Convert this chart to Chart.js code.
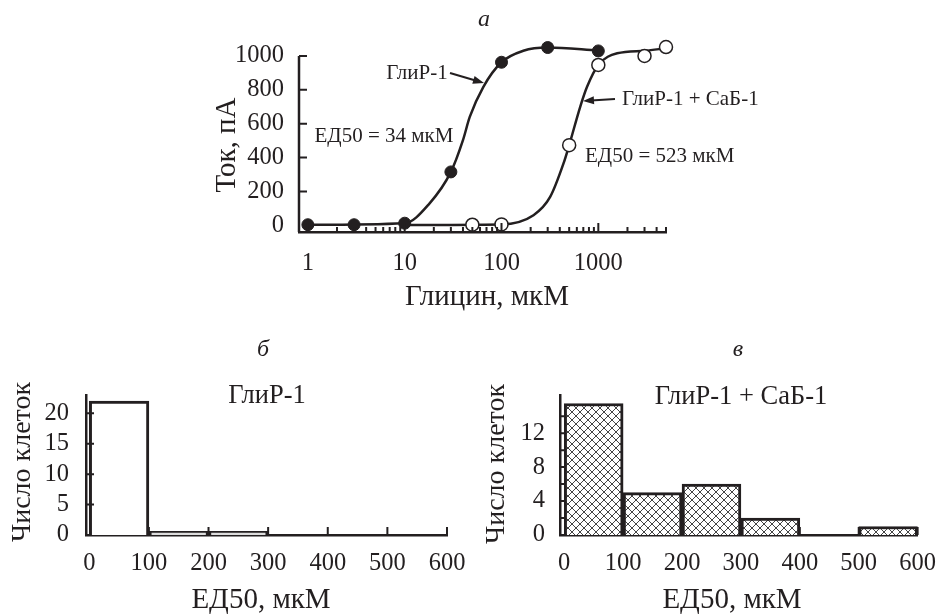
<!DOCTYPE html>
<html>
<head>
<meta charset="utf-8">
<script src="https://cdn.jsdelivr.net/npm/chart.js@4.4.1/dist/chart.umd.min.js"></script>
<style>
  body { margin: 0; background: #fff; }
  #wrap { position: relative; width: 942px; height: 614px; }
  #wrap canvas { position: absolute; left: 0; top: 0; }
</style>
</head>
<body>
<div id="wrap">
  <canvas id="doseChart" width="942" height="614"></canvas>
  <canvas id="histGly" width="942" height="614"></canvas>
  <canvas id="histSab" width="942" height="614"></canvas>
</div>
<script>
// panel a: glycine dose-response
const glyDose = [1, 3, 10, 30, 100, 300, 1000];
const glyCurrent = [3, 3, 12, 315, 963, 1050, 1030];
const sabDose = [50, 100, 500, 1000, 3000, 5000];
const sabCurrent = [3, 5, 473, 947, 1000, 1053];
// fitted curves
const glyFitDose = [1, 10, 18, 30, 40, 47, 65, 100, 168, 300, 1000];
const glyFit = [3, 12, 128, 315, 503, 640, 818, 963, 1031, 1050, 1032];
const sabFitDose = [10, 100, 214, 318, 437, 500, 650, 765, 1000, 1567, 3030, 5000];
const sabFit = [2, 5, 59, 167, 365, 473, 700, 818, 947, 1016, 1031, 1046];
const doseTicks = [1, 10, 100, 1000];
const currentTicks = [0, 200, 400, 600, 800, 1000];

// panels б, в: ED50 histograms
const binCenters = [50, 150, 250, 350, 450, 550];
const cellsGly = [22, 0.6, 0.6, 0, 0, 0];
const cellsSab = [15.5, 5, 6, 2, 0, 1];
const edTicks = [0, 100, 200, 300, 400, 500, 600];
const cellTicksGly = [0, 5, 10, 15, 20];
const cellTicksSab = [0, 4, 8, 12];

const INK = '#231f20';
const SERIF = "'Liberation Serif', 'Times New Roman', serif";
Chart.defaults.font.family = SERIF;
Chart.defaults.color = INK;

const pairs = (xs, ys) => xs.map((x, i) => ({ x: x, y: ys[i] }));

// inward tick marks, partial y axis line, arrows and loose text
const decor = {
  id: 'decor',
  afterDraw(chart, args, opts) {
    const ctx = chart.ctx;
    const a = chart.chartArea;
    const xs = chart.scales.x, ys = chart.scales.y;
    ctx.save();
    ctx.strokeStyle = INK;
    if (opts.yLine) {
      ctx.lineWidth = 2.5;
      ctx.beginPath();
      ctx.moveTo(a.left, ys.getPixelForValue(opts.yLine[0]));
      ctx.lineTo(a.left, ys.getPixelForValue(opts.yLine[1]));
      ctx.stroke();
    }
    ctx.lineWidth = 2;
    ctx.beginPath();
    (opts.xTicks || []).forEach(([v, len]) => {
      const px = xs.getPixelForValue(v);
      ctx.moveTo(px, a.bottom);
      ctx.lineTo(px, a.bottom - len);
    });
    (opts.yTicks || []).forEach(([v, len]) => {
      const py = ys.getPixelForValue(v);
      ctx.moveTo(a.left, py);
      ctx.lineTo(a.left + len, py);
    });
    ctx.stroke();

    ctx.fillStyle = INK;
    (opts.arrows || []).forEach(([x1, y1, x2, y2]) => {
      const ang = Math.atan2(y2 - y1, x2 - x1);
      ctx.lineWidth = 2;
      ctx.beginPath();
      ctx.moveTo(x1, y1);
      ctx.lineTo(x2 - 8 * Math.cos(ang), y2 - 8 * Math.sin(ang));
      ctx.stroke();
      ctx.beginPath();
      ctx.moveTo(x2, y2);
      ctx.lineTo(x2 - 11 * Math.cos(ang) + 4 * Math.sin(ang), y2 - 11 * Math.sin(ang) - 4 * Math.cos(ang));
      ctx.lineTo(x2 - 11 * Math.cos(ang) - 4 * Math.sin(ang), y2 - 11 * Math.sin(ang) + 4 * Math.cos(ang));
      ctx.closePath();
      ctx.fill();
    });

    ctx.textBaseline = 'middle';
    (opts.texts || []).forEach(t => {
      ctx.save();
      ctx.font = (t.italic ? 'italic ' : '') + t.size + 'px ' + SERIF;
      ctx.textAlign = t.align || 'center';
      ctx.translate(t.x, t.y);
      if (t.rot) ctx.rotate(-Math.PI / 2);
      ctx.fillText(t.text, 0, 0);
      ctx.restore();
    });
    ctx.restore();
  }
};

// pin the plot box: left/top/right/bottom in page pixels
function axes(area, xOpts, yOpts, xTickList, yTickList, xPad, yPad) {
  return {
    x: Object.assign({
      offset: false,
      grid: { display: false },
      border: { color: INK, width: 2.5 },
      ticks: { font: { size: 24.5 }, padding: xPad, color: INK, maxRotation: 0, autoSkip: false, callback: v => String(v) },
      afterBuildTicks: s => { s.ticks = xTickList.map(v => ({ value: v })); },
      afterFit: s => { s.height = 614 - area.bottom; }
    }, xOpts),
    y: Object.assign({
      grid: { display: false },
      border: { color: INK, width: 2.5 },
      ticks: { font: { size: 24.5 }, padding: yPad, color: INK, callback: v => String(v) },
      afterBuildTicks: s => { s.ticks = yTickList.map(v => ({ value: v })); },
      afterFit: s => { s.width = area.left; }
    }, yOpts)
  };
}

const base = {
  responsive: false,
  animation: false,
  devicePixelRatio: 1,
  events: []
};

// --- panel a
const minorDose = [];
[1, 10, 100, 1000].forEach(d => {
  for (let k = 2; k <= 9; k++) if (d * k <= 5000) minorDose.push([d * k, 5]);
});
// top sits above 1000 so the highest markers are not culled; axis line stops at 1000
const areaA = { left: 299, top: 44.15, right: 666, bottom: 232 };
const scalesA = axes(areaA,
  { type: 'logarithmic', min: 0.81, max: 5000 },
  { min: -40, max: 1070 },
  doseTicks, currentTicks, 9, 7);
scalesA.y.border = { display: false };

new Chart(document.getElementById('doseChart'), {
  type: 'scatter',
  data: {
    datasets: [
      { data: pairs(glyDose, glyCurrent), pointRadius: 6, pointBackgroundColor: INK, pointBorderColor: INK, pointBorderWidth: 1, order: 0, clip: false },
      { data: pairs(sabDose, sabCurrent), pointRadius: 6.5, pointBackgroundColor: '#fff', pointBorderColor: INK, pointBorderWidth: 1.5, order: 0, clip: false },
      { type: 'line', data: pairs(glyFitDose, glyFit), borderColor: INK, borderWidth: 2.5, pointRadius: 0, cubicInterpolationMode: 'monotone', order: 1, clip: false },
      { type: 'line', data: pairs(sabFitDose, sabFit), borderColor: INK, borderWidth: 2.5, pointRadius: 0, cubicInterpolationMode: 'monotone', order: 1, clip: false }
    ]
  },
  options: Object.assign({}, base, {
    layout: { padding: { left: 0, top: areaA.top, right: 942 - areaA.right, bottom: 0 } },
    plugins: {
      legend: { display: false },
      tooltip: { enabled: false },
      decor: {
        yLine: [-40, 1000],
        xTicks: doseTicks.map(v => [v, 9]).concat(minorDose),
        yTicks: currentTicks.slice(1).map(v => [v, 8]),
        arrows: [[450, 73, 484, 83], [615, 99, 583, 101]],
        texts: [
          { text: 'а', x: 484, y: 20, size: 24, italic: true },
          { text: 'Ток, пА', x: 227, y: 145, size: 29, rot: true },
          { text: 'Глицин, мкМ', x: 487, y: 297, size: 29 },
          { text: 'ГлиР-1', x: 417, y: 73, size: 21 },
          { text: 'ЕД50 = 34 мкМ', x: 384, y: 136, size: 21 },
          { text: 'ГлиР-1 + СаБ-1', x: 622, y: 99, size: 21, align: 'left' },
          { text: 'ЕД50 = 523 мкМ', x: 585, y: 156, size: 21, align: 'left' }
        ]
      }
    },
    scales: scalesA
  }),
  plugins: [decor]
});

// --- hatch for panel в
function crossHatch() {
  const c = document.createElement('canvas');
  c.width = 8; c.height = 8;
  const g = c.getContext('2d');
  g.fillStyle = '#fff';
  g.fillRect(0, 0, 8, 8);
  g.strokeStyle = '#444';
  g.lineWidth = 1;
  g.beginPath();
  g.moveTo(0, 0); g.lineTo(8, 8);
  g.moveTo(8, 0); g.lineTo(0, 8);
  g.stroke();
  return g.createPattern(c, 'repeat');
}

function histogram(id, cells, fill, area, xMin, yMax, yTickList, yMarks, yPad, texts) {
  new Chart(document.getElementById(id), {
    type: 'bar',
    data: {
      datasets: [{
        data: pairs(binCenters, cells),
        backgroundColor: fill,
        borderColor: INK,
        borderWidth: 3,
        barPercentage: 1,
        categoryPercentage: 1
      }]
    },
    options: Object.assign({}, base, {
      layout: { padding: { left: 0, top: area.top, right: 942 - area.right, bottom: 0 } },
      plugins: {
        legend: { display: false },
        tooltip: { enabled: false },
        decor: {
          xTicks: edTicks.slice(1).map(v => [v, 8]),
          yTicks: yMarks,
          texts: texts
        }
      },
      scales: axes(area,
        { type: 'linear', min: xMin, max: 600 },
        { min: 0, max: yMax },
        edTicks, yTickList, 6, yPad)
    }),
    plugins: [decor]
  });
}

histogram('histGly', cellsGly, ['#fff', '#ddd', '#ddd', '#ddd', '#ddd', '#ddd'],
  { left: 86, top: 395, right: 447, bottom: 535 }, -5.5, 23,
  cellTicksGly, [5, 10, 15, 20].map(v => [v, 8]), 9,
  [
    { text: 'б', x: 263, y: 350, size: 24, italic: true },
    { text: 'ГлиР-1', x: 267, y: 396, size: 26.5 },
    { text: 'Число клеток', x: 23, y: 462, size: 28, rot: true },
    { text: 'ЕД50, мкМ', x: 261, y: 600, size: 29 }
  ]);

const hatch = crossHatch();
histogram('histSab', cellsSab, hatch,
  { left: 560, top: 395, right: 921, bottom: 535 }, -7.2, 16.5,
  cellTicksSab, [2, 4, 6, 8, 10, 12, 14].map(v => [v, 6]), 7,
  [
    { text: 'в', x: 738, y: 350, size: 24, italic: true },
    { text: 'ГлиР-1 + СаБ-1', x: 741, y: 397, size: 26.5 },
    { text: 'Число клеток', x: 497, y: 464, size: 28, rot: true },
    { text: 'ЕД50, мкМ', x: 732, y: 600, size: 29 }
  ]);
</script>
</body>
</html>
